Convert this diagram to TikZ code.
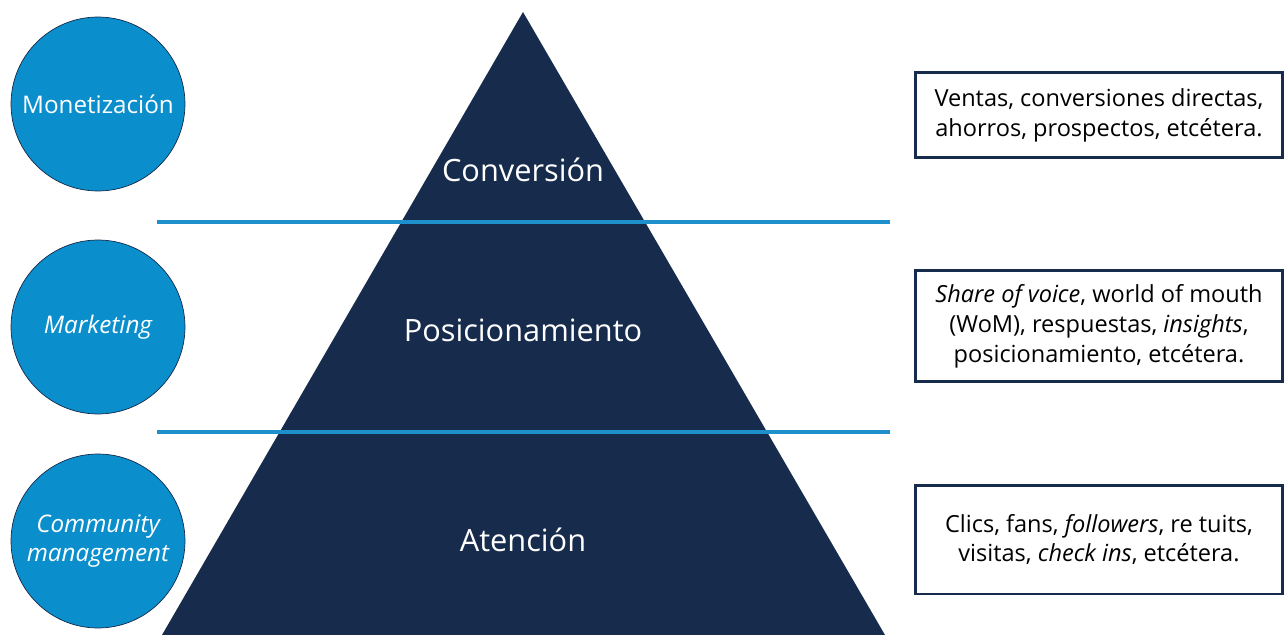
\documentclass[tikz,border=0pt]{standalone}
\usepackage{fontspec}
\setmainfont{Open Sans}
\usetikzlibrary{positioning}
\definecolor{navy}{HTML}{172B4D}
\definecolor{celeste}{HTML}{0B8ECC}
\definecolor{raya}{HTML}{1E90CC}

\begin{document}
\begin{tikzpicture}[x=0.02cm,y=-0.02cm,
	nivel/.style={text=white,inner sep=0pt,font=\fontsize{17.5}{20}\selectfont},
	esfera/.style={circle,fill=celeste,draw=navy,line width=0.4pt,minimum size=3.48cm,inner sep=0pt,
		text=white,align=center,font=\fontsize{13.8}{17}\selectfont},
	caja/.style={draw=navy,line width=1.7pt,minimum width=7.36cm,inner sep=0pt,align=center,
		font=\fontsize{13.4}{17}\selectfont},
	raya/.style={draw=raya,line width=2.3pt}]
		%%%%% START %%%%%
		\useasboundingbox[fill=white] (0, 0) rectangle (1285, 635);
		
		% piramide
		\coordinate (apex) at (523, 12);
		\coordinate (bl) at (162, 635);
		\coordinate (br) at (885, 635);
		\fill[navy] (apex) -- (br) -- (bl) -- cycle;
		
		% separadores
		\coordinate (r1a) at (157, 222);
		\coordinate (r1b) at (890, 222);
		\coordinate (r2a) at (157, 432);
		\coordinate (r2b) at (890, 432);
		\draw[raya] (r1a) -- (r1b);
		\draw[raya] (r2a) -- (r2b);
		
		\node[nivel] (conv) at (523, 170) {Conversión};
		\node[nivel] (posi) at (523, 330) {Posicionamiento};
		\node[nivel] (aten) at (523, 540) {Atención};
		
		% circulos
		\node[esfera] (mone) at (98, 104) {Monetización};
		\node[esfera] (mark) at (98, 327) {\itshape Marketing};
		\node[esfera] (comm) at (98, 541) {\itshape Community\\ \itshape management};
		
		% cajas
		\node[caja, minimum height=1.72cm] (cventas) at (1099, 115)
			{Ventas, conversiones directas,\\ ahorros, prospectos, etcétera.};
		\node[caja, minimum height=2.24cm] (cshare) at (1099, 326)
			{\textit{Share of voice}, world of mouth\\ (WoM), respuestas, \textit{insights},\\ posicionamiento, etcétera.};
		\node[caja, minimum height=2.18cm] (cclics) at (1099, 539.5)
			{Clics, fans, \textit{followers}, re tuits,\\ visitas, \textit{check ins}, etcétera.};
		%%%%% END %%%%%
\end{tikzpicture}
\end{document}
